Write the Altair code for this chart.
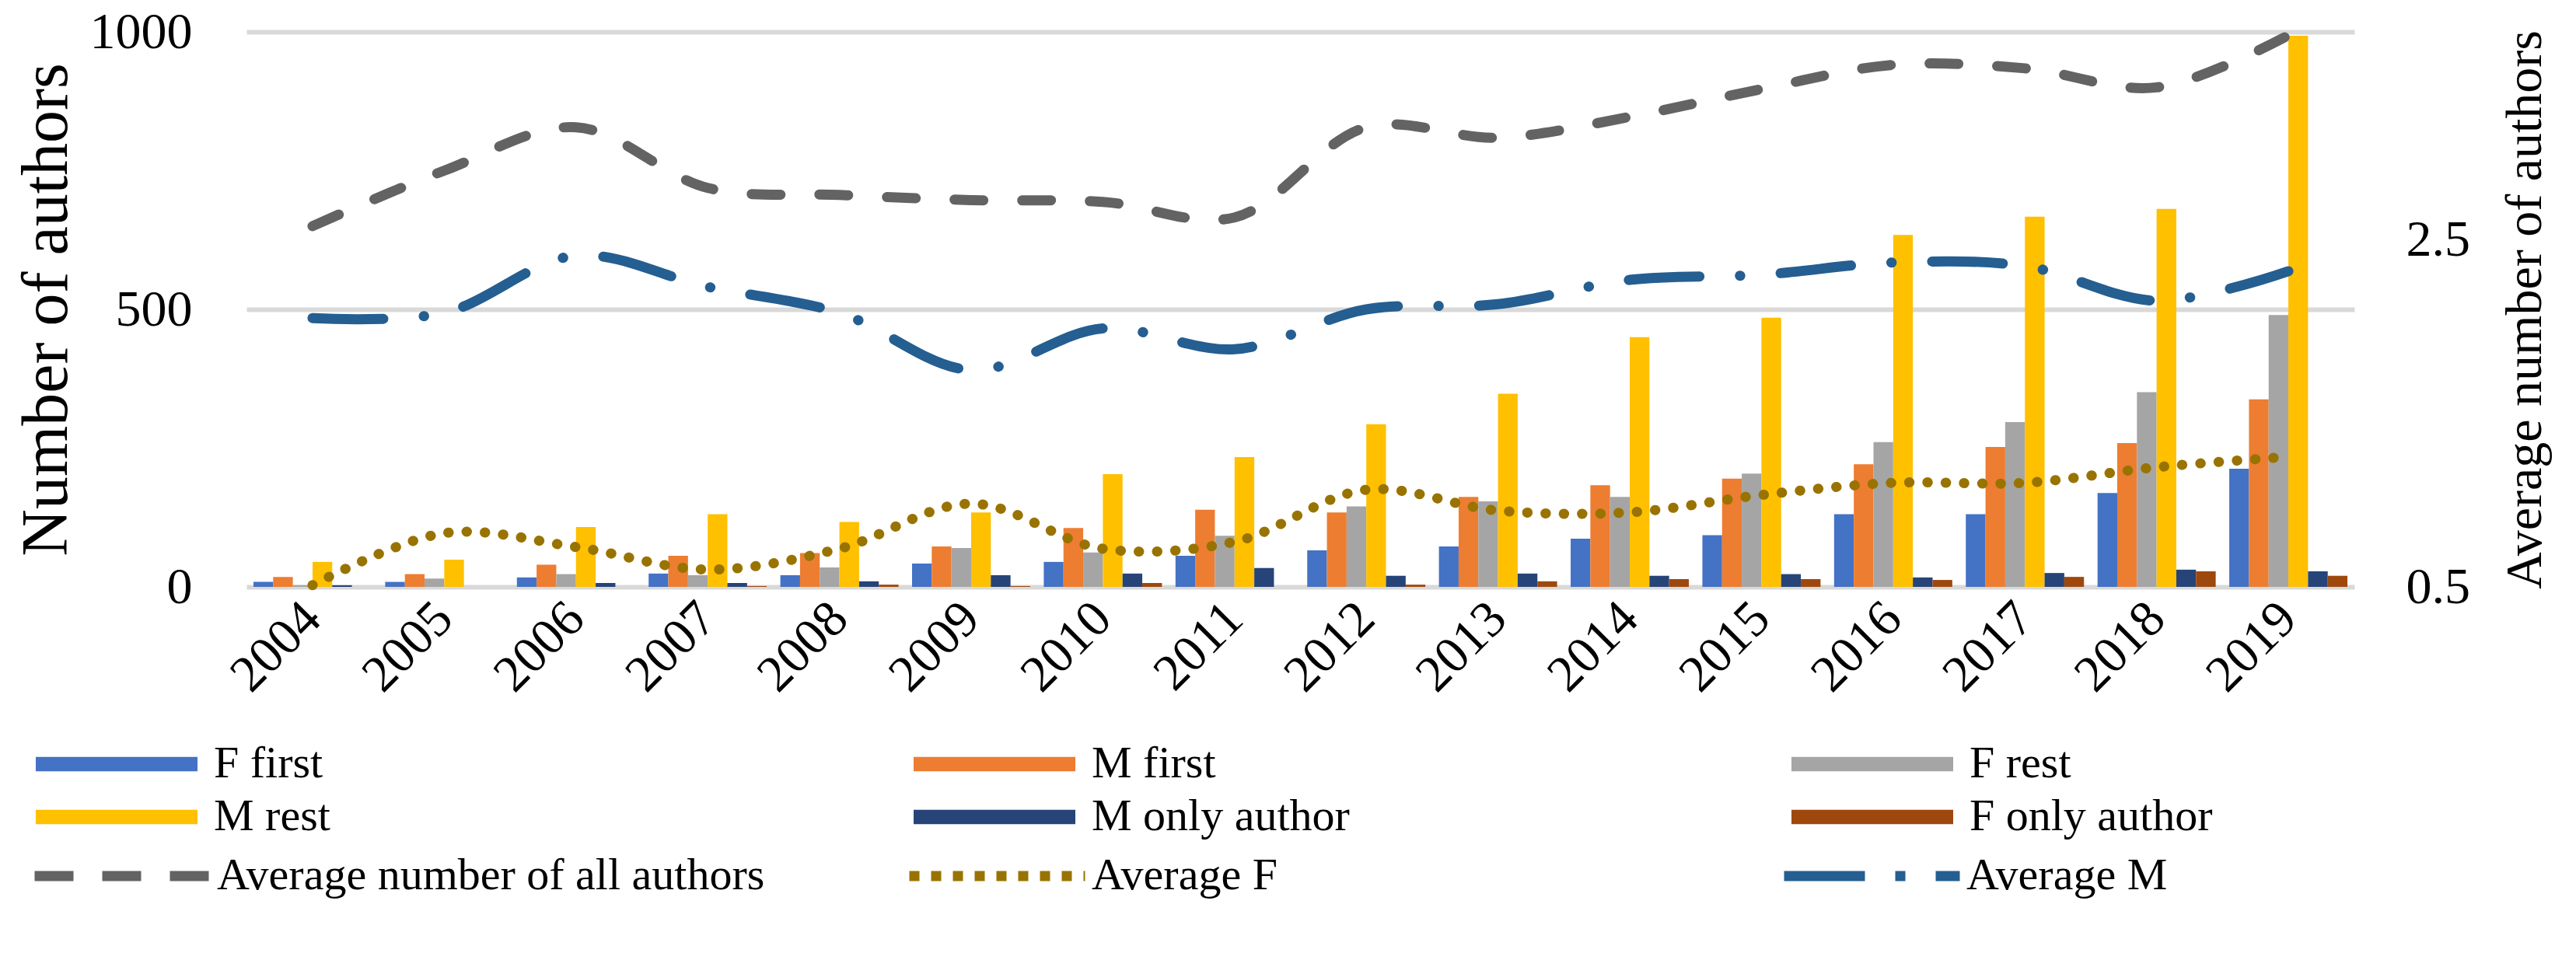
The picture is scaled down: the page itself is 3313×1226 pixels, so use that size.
import altair as alt
import pandas as pd

years = [str(y) for y in range(2004, 2020)]

f_first = [9, 9, 17, 24, 21, 42, 45, 56, 66, 73, 87, 93, 131, 131, 169, 213]
m_first = [18, 23, 40, 56, 61, 73, 106, 139, 134, 162, 183, 195, 221, 252, 259, 338]
f_rest = [3, 15, 23, 21, 35, 70, 62, 92, 145, 154, 162, 204, 261, 297, 351, 490]
m_rest = [45, 49, 108, 131, 117, 134, 203, 234, 293, 348, 450, 485, 634, 667, 681, 993]
m_only = [3, 0, 7, 7, 10, 21, 24, 34, 20, 24, 20, 23, 17, 25, 31, 28]
f_only = [0, 0, 0, 1.5, 4, 1.5, 7, 0, 4, 10, 14, 14, 12.5, 18, 28, 20]

avg_all = [2.58, 2.90, 3.15, 2.80, 2.76, 2.73, 2.72, 2.63, 3.15, 3.09, 3.21, 3.37, 3.51, 3.49, 3.38, 3.68]
avg_f = [0.51, 0.81, 0.73, 0.60, 0.72, 0.98, 0.72, 0.76, 1.06, 0.94, 0.93, 1.03, 1.10, 1.10, 1.19, 1.25]
avg_m = [2.05, 2.08, 2.41, 2.23, 2.08, 1.75, 1.99, 1.87, 2.10, 2.13, 2.27, 2.30, 2.37, 2.35, 2.15, 2.32]

bar_series = ["F first", "M first", "F rest", "M rest", "M only author", "F only author"]
bar_colors = ["#4472C4", "#ED7D31", "#A5A5A5", "#FFC000", "#264478", "#9E480E"]
bar_values = [f_first, m_first, f_rest, m_rest, m_only, f_only]

line_series = ["Average number of all authors", "Average F", "Average M"]
line_colors = ["#636363", "#997300", "#255E91"]
line_dashes = [[37, 50], [0.5, 23], [91, 52, 0.5, 52]]       # drawn with round caps
legend_dashes = [[50, 37], [13, 15], [104, 39, 13, 39]]      # legend symbols (butt caps)
line_values = [avg_all, avg_f, avg_m]

bars_df = pd.DataFrame(
    [{"year": y, "series": s, "value": v}
     for s, vals in zip(bar_series, bar_values) for y, v in zip(years, vals)]
)
lines_df = pd.DataFrame(
    [{"year": y, "series": s, "value": v}
     for s, vals in zip(line_series, line_values) for y, v in zip(years, vals)]
)

FONT = "Liberation Serif"

x_enc = alt.X(
    "year:N", sort=years, title=None,
    scale=alt.Scale(paddingInner=0.103, paddingOuter=0.053),
    axis=alt.Axis(labelAngle=315, labelAlign="right", labelBaseline="middle",
                  labelPadding=30, grid=False, domain=False, ticks=False),
)

bar_legend = alt.Legend(
    title=None, orient="none", legendX=-271, legendY=922, direction="horizontal",
    columns=3, gridAlign="all", columnPadding=568, rowPadding=10,
    clipHeight=40, padding=0,
    symbolType="M-1,-0.089L1,-0.089L1,0.089L-1,0.089Z",
    symbolSize=43264, symbolStrokeWidth=0, symbolOpacity=1,
    labelFont=FONT, labelFontSize=58, labelColor="black", labelOffset=21,
    labelLimit=2000,
)

bars = alt.Chart(bars_df).mark_bar().encode(
    x=x_enc,
    xOffset=alt.XOffset("series:N", sort=bar_series,
                        scale=alt.Scale(paddingInner=0, paddingOuter=0)),
    y=alt.Y("value:Q", scale=alt.Scale(domain=[0, 1000], nice=False),
            axis=alt.Axis(orient="left", values=[0, 500, 1000], format="d",
                          title="Number of authors",
                          grid=True, gridColor="#D9D9D9", gridWidth=6,
                          domain=False, ticks=False, labelPadding=70,
                          titleFontSize=84, titlePadding=14)),
    fill=alt.Fill("series:N", sort=bar_series,
                  scale=alt.Scale(domain=bar_series, range=bar_colors),
                  legend=bar_legend),
)

lines = alt.Chart(lines_df).mark_line(
    interpolate="catmull-rom", strokeWidth=13, strokeCap="round", strokeJoin="round"
).encode(
    x=x_enc,
    y=alt.Y("value:Q", scale=alt.Scale(domain=[0.5, 3.7], nice=False, zero=False),
            axis=alt.Axis(orient="right", values=[0.5, 2.5], format=".1f",
                          title="Average number of authors",
                          grid=False, domain=False, ticks=False, labelPadding=66,
                          titleAngle=270, titleFontSize=66, titlePadding=105)),
    stroke=alt.Stroke("series:N", sort=line_series,
                      scale=alt.Scale(domain=line_series, range=line_colors),
                      legend=None),
    strokeDash=alt.StrokeDash("series:N", sort=line_series,
                              scale=alt.Scale(domain=line_series, range=line_dashes),
                              legend=None),
)

line_legend = alt.Legend(
    title=None, orient="none", legendX=-279, legendY=1066, direction="horizontal",
    columns=3, gridAlign="all", columnPadding=179, rowPadding=10,
    clipHeight=40, padding=0,
    symbolType="stroke", symbolSize=51076, symbolStrokeWidth=13,
    labelFont=FONT, labelFontSize=58, labelColor="black", labelOffset=2,
    labelLimit=2000,
)

legend_layer = alt.Chart(lines_df).transform_filter("false").mark_line(strokeWidth=13).encode(
    x=x_enc,
    y=alt.Y("value:Q", axis=None),
    stroke=alt.Stroke("series:N", sort=line_series,
                      scale=alt.Scale(domain=line_series, range=line_colors),
                      legend=line_legend),
    strokeDash=alt.StrokeDash("series:N", sort=line_series,
                              scale=alt.Scale(domain=line_series, range=legend_dashes),
                              legend=line_legend),
)

chart = alt.layer(bars, lines, legend_layer).resolve_scale(
    y="independent", fill="independent", stroke="independent", strokeDash="independent"
).properties(
    width=2711, height=714, background="white",
    autosize=alt.AutoSizeParams(type="none"),
    padding={"left": 309, "top": 33, "right": 270, "bottom": 460},
).configure_view(stroke=None).configure_axis(
    labelFont=FONT, labelFontSize=66, labelColor="black",
    titleFont=FONT, titleFontWeight="normal", titleColor="black",
)

chart.save("out.html", embed_options={"renderer": "svg", "actions": False})
